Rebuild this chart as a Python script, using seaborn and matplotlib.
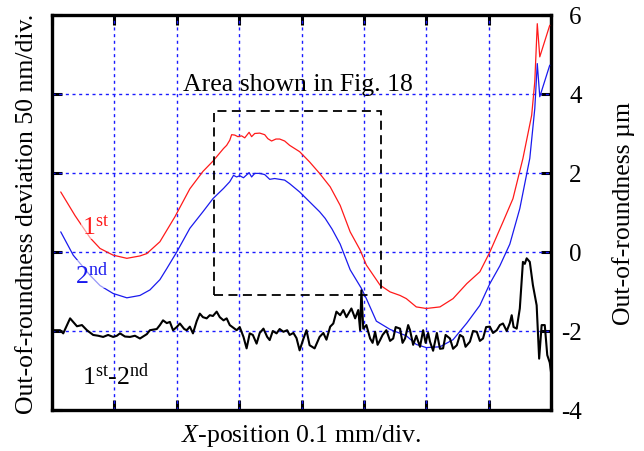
import matplotlib
matplotlib.use("Agg")
import matplotlib.pyplot as plt
import seaborn as sns
from matplotlib.patches import Rectangle

# Horizontal position in divisions (0.1 mm/div), profiles in µm
x_first = [0.14, 0.37, 0.61, 0.77, 0.98, 1.20, 1.41, 1.52, 1.73, 1.97, 2.21, 2.42,
           2.58, 2.75, 2.80, 2.85, 2.88, 2.93, 2.98, 3.04, 3.09, 3.16, 3.20, 3.25,
           3.33, 3.41, 3.46, 3.52, 3.59, 3.65, 3.73, 3.81, 3.97, 4.13, 4.29, 4.46,
           4.62, 4.78, 4.94, 5.04, 5.26, 5.42, 5.58, 5.68, 5.84, 6.00, 6.22, 6.43,
           6.65, 6.86, 7.02, 7.23, 7.39, 7.55, 7.69, 7.74, 7.78, 7.82, 7.98]
y_first = [1.52, 0.92, 0.36, 0.09, -0.08, -0.16, -0.10, -0.04, 0.26, 0.89, 1.60, 2.04,
           2.30, 2.62, 2.70, 2.83, 2.97, 2.96, 2.92, 2.94, 2.89, 3.03, 2.92, 3.00,
           3.01, 2.97, 2.87, 2.81, 2.86, 2.86, 2.81, 2.70, 2.54, 2.28, 1.99, 1.65,
           1.18, 0.51, 0.05, -0.33, -0.84, -1.01, -1.10, -1.18, -1.39, -1.43, -1.39, -1.18,
           -0.80, -0.50, 0.00, 0.76, 1.35, 2.37, 3.46, 4.31, 5.78, 4.94, 5.74]

x_second = [0.14, 0.34, 0.61, 0.77, 0.98, 1.20, 1.41, 1.57, 1.73, 1.84, 2.00, 2.21,
            2.42, 2.58, 2.75, 2.85, 2.91, 2.96, 3.01, 3.07, 3.16, 3.20, 3.25, 3.33,
            3.41, 3.49, 3.57, 3.65, 3.73, 3.81, 3.97, 4.13, 4.29, 4.38, 4.49, 4.62,
            4.78, 4.96, 5.04, 5.20, 5.42, 5.68, 5.84, 6.00, 6.22, 6.43, 6.65, 6.86,
            7.02, 7.18, 7.34, 7.50, 7.66, 7.74, 7.78, 7.82, 7.98]
y_second = [0.51, -0.08, -0.59, -0.85, -1.05, -1.16, -1.10, -0.96, -0.70, -0.42, 0.00, 0.60,
            1.02, 1.35, 1.61, 1.78, 1.94, 1.90, 1.93, 1.88, 2.01, 1.90, 1.99, 1.99,
            1.96, 1.84, 1.86, 1.84, 1.82, 1.73, 1.52, 1.27, 1.02, 0.85, 0.58, 0.20,
            -0.45, -0.92, -1.18, -1.75, -1.96, -2.12, -2.34, -2.42, -2.40, -2.22, -1.80, -1.35,
            -0.80, -0.35, 0.20, 1.10, 2.37, 3.63, 4.77, 3.93, 4.73]

x_diff = [0.00, 0.06, 0.13, 0.18, 0.24, 0.29, 0.34, 0.40, 0.48, 0.56, 0.66, 0.74,
          0.82, 0.90, 0.98, 1.04, 1.09, 1.17, 1.25, 1.33, 1.41, 1.52, 1.57, 1.68,
          1.73, 1.78, 1.84, 1.89, 1.94, 2.00, 2.05, 2.12, 2.16, 2.21, 2.26, 2.32,
          2.37, 2.42, 2.48, 2.53, 2.58, 2.64, 2.69, 2.75, 2.80, 2.85, 2.96, 3.01,
          3.07, 3.12, 3.17, 3.22, 3.28, 3.33, 3.39, 3.45, 3.49, 3.54, 3.60, 3.65,
          3.71, 3.77, 3.81, 3.87, 3.92, 3.97, 4.03, 4.08, 4.13, 4.21, 4.29, 4.35,
          4.40, 4.46, 4.51, 4.56, 4.62, 4.67, 4.72, 4.80, 4.86, 4.91, 4.94, 4.96,
          4.99, 5.04, 5.10, 5.14, 5.18, 5.22, 5.26, 5.30, 5.36, 5.42, 5.47, 5.51,
          5.58, 5.62, 5.66, 5.71, 5.74, 5.79, 5.84, 5.90, 5.95, 5.99, 6.03, 6.06,
          6.11, 6.17, 6.22, 6.27, 6.31, 6.38, 6.43, 6.49, 6.54, 6.59, 6.63, 6.70,
          6.75, 6.81, 6.86, 6.91, 6.96, 7.02, 7.07, 7.13, 7.18, 7.23, 7.29, 7.34,
          7.37, 7.40, 7.45, 7.50, 7.55, 7.58, 7.61, 7.66, 7.71, 7.77, 7.81, 7.85,
          7.90, 7.94, 7.98, 8.01]
y_diff = [-1.98, -1.98, -1.98, -2.06, -1.85, -1.68, -1.77, -1.88, -1.85, -1.98, -2.10, -2.12,
          -2.15, -2.10, -2.15, -2.12, -2.06, -2.14, -2.15, -2.12, -2.19, -2.08, -1.98, -1.95,
          -1.85, -1.73, -1.80, -1.77, -1.98, -1.90, -1.81, -1.95, -1.98, -1.89, -2.06, -1.75,
          -1.56, -1.65, -1.68, -1.60, -1.62, -1.51, -1.65, -1.73, -1.68, -1.85, -1.98, -1.90,
          -2.15, -2.44, -2.06, -2.10, -2.32, -2.05, -1.94, -2.15, -2.23, -2.00, -2.06, -1.95,
          -2.02, -1.98, -2.10, -2.05, -2.18, -2.49, -2.20, -1.98, -2.36, -2.44, -2.15, -2.05,
          -2.22, -1.89, -1.81, -1.51, -1.60, -1.47, -1.65, -1.43, -1.68, -1.47, -1.98, -0.97,
          -1.94, -1.85, -2.19, -2.30, -2.02, -2.35, -2.23, -2.10, -1.98, -2.25, -2.19, -1.90,
          -1.94, -2.30, -2.19, -1.85, -1.98, -2.35, -2.12, -2.40, -1.98, -2.30, -2.05, -2.27,
          -2.50, -2.05, -2.45, -2.44, -2.10, -2.19, -2.45, -2.36, -2.10, -2.15, -2.40, -2.27,
          -2.00, -2.02, -2.25, -2.19, -1.90, -1.89, -2.05, -1.98, -1.85, -1.81, -2.00, -1.80,
          -1.60, -1.90, -1.94, -1.43, -0.25, -0.30, -0.16, -0.25, -0.84, -1.35, -2.70, -1.85,
          -1.85, -2.61, -2.80, -3.16]

# Region that is enlarged in Fig. 18 (x from/to in div, y from/to in µm)
area_x = [2.60, 5.27]
area_y = [-1.10, 3.56]

x_ticks = [0, 1, 2, 3, 4, 5, 6, 7, 8]
y_ticks = [-4, -2, 0, 2, 4, 6]
y_ticklabels = ["-4", "-2", "0", "2", "4", "6"]

sns.set_theme(style="ticks")
plt.rcParams["font.family"] = ["Liberation Serif", "DejaVu Serif"]
plt.rcParams["mathtext.fontset"] = "custom"
plt.rcParams["mathtext.rm"] = "Liberation Serif"
plt.rcParams["mathtext.it"] = "Liberation Serif:italic"
plt.rcParams["axes.unicode_minus"] = False
for key in ["text.color", "axes.labelcolor", "axes.edgecolor", "xtick.color", "ytick.color"]:
    plt.rcParams[key] = "black"

FS = 18.5
fig = plt.figure(figsize=(6.44, 4.52), dpi=100)
ax = fig.add_axes([52 / 644, 41 / 452, 499 / 644, 395 / 452])

grid_kw = dict(color="#1a1aff", lw=1.0, ls=(0, (2.2, 2.6)), zorder=1)
for gx in x_ticks[1:-1]:
    ax.axvline(gx, **grid_kw)
for gy in y_ticks[1:-1]:
    ax.axhline(gy, **grid_kw)

sns.lineplot(x=x_first, y=y_first, ax=ax, color="#ff1a1a", lw=0.9,
             sort=False, estimator=None, legend=False, zorder=3)
sns.lineplot(x=x_second, y=y_second, ax=ax, color="#1a1aee", lw=0.9,
             sort=False, estimator=None, legend=False, zorder=3)
sns.lineplot(x=x_diff, y=y_diff, ax=ax, color="black", lw=1.5,
             sort=False, estimator=None, legend=False, zorder=4)

ax.add_patch(Rectangle((area_x[0], area_y[0]), area_x[1] - area_x[0], area_y[1] - area_y[0],
                       fill=False, ec="black", lw=1.3, ls=(0, (5, 3)), zorder=5))

ax.set_xlim(0, 8)
ax.set_ylim(-4, 6)
ax.set_xticks(x_ticks)
ax.set_yticks(y_ticks)
ax.tick_params(which="both", direction="in", length=7, width=2.2, colors="black",
               top=True, bottom=True, left=True, right=True,
               labelbottom=False, labelleft=False, labelright=True, labelsize=18,
               pad=22)
ax.set_yticklabels(y_ticklabels)
plt.setp(ax.get_yticklabels(), ha="right")
for sp in ax.spines.values():
    sp.set_linewidth(2.4)
    sp.set_color("black")
    sp.set_visible(True)

ax.set_xlabel(r"$X$-position 0.1 mm/div.", fontsize=FS, labelpad=9)
ax.yaxis.set_label_position("right")
ax.set_ylabel("Out-of-roundness µm", fontsize=FS, rotation=90, labelpad=22)
fig.text(27 / 644, 0.5 + (452 / 2 - 213.5) / 452, "Out-of-roundness deviation 50 nm/div.",
         rotation=90, ha="center", va="center", fontsize=FS)

lbl_bg = dict(facecolor="white", alpha=0.55, edgecolor="none", pad=0.5)
ax.text(0.48, 0.47, r"1$^{\mathrm{st}}$", color="#ff1a1a", fontsize=FS,
        va="baseline", zorder=6, bbox=lbl_bg)
ax.text(0.37, -0.77, r"2$^{\mathrm{nd}}$", color="#1a1aee", fontsize=FS,
        va="baseline", zorder=6, bbox=lbl_bg)
ax.text(0.48, -3.33, r"1$^{\mathrm{st}}$-2$^{\mathrm{nd}}$", color="black", fontsize=FS,
        va="baseline", zorder=6)
ax.text(2.10, 4.09, "Area shown in Fig. 18", color="black", fontsize=FS,
        va="baseline", zorder=6)

fig.savefig("out.png", dpi=100)
